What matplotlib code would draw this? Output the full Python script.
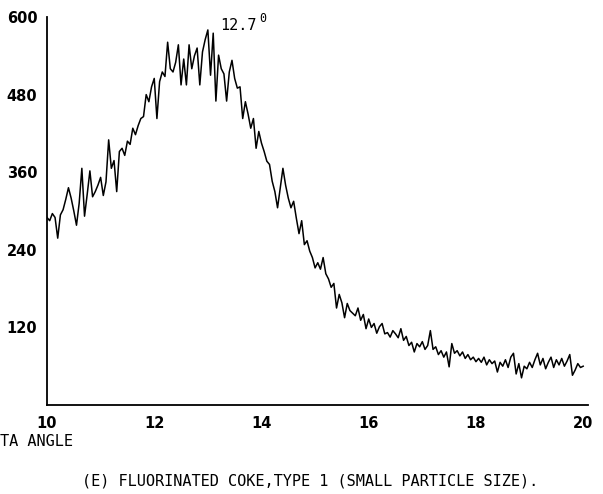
import numpy as np
import matplotlib
matplotlib.use("Agg")
import matplotlib.pyplot as plt

# ── Data (0.05 deg steps) ─────────────────────────────────────────────────────
counts = [
    290, 285, 296, 290, 258, 294, 302, 318, 336, 320,   # 10.00 - 10.45
    300, 278, 312, 366, 292, 326, 362, 322, 330, 340,   # 10.50 - 10.95
    352, 324, 345, 410, 366, 378, 330, 392, 397, 386,   # 11.00 - 11.45
    408, 403, 428, 418, 432, 443, 446, 480, 469, 492,   # 11.50 - 11.95
    505, 443, 500, 515, 508, 561, 520, 515, 530, 557,   # 12.00 - 12.45
    495, 535, 495, 557, 520, 540, 552, 495, 546, 565,   # 12.50 - 12.95
    580, 510, 575, 470, 541, 520, 512, 470, 515, 533,   # 13.00 - 13.45
    505, 490, 492, 443, 469, 450, 428, 443, 397, 423,   # 13.50 - 13.95
    405, 392, 377, 372, 346, 330, 305, 335, 366, 340,   # 14.00 - 14.45
    320, 305, 315, 289, 265, 285, 248, 254, 238, 228,   # 14.50 - 14.95
    212, 220, 210, 228, 203, 195, 182, 188, 150, 171,   # 15.00 - 15.45
    158, 135, 157, 146, 142, 138, 150, 131, 140, 118,   # 15.50 - 15.95
    133, 120, 126, 111, 121, 126, 110, 112, 105, 115,   # 16.00 - 16.45
    110, 104, 118, 100, 106, 92, 97, 82, 95, 90,        # 16.50 - 16.95
    98, 86, 92, 115, 86, 90, 78, 84, 74, 82,            # 17.00 - 17.45
    59, 95, 80, 84, 76, 82, 72, 78, 70, 74,             # 17.50 - 17.95
    67, 72, 66, 74, 62, 70, 64, 68, 51, 66,             # 18.00 - 18.45
    60, 70, 58, 74, 80, 48, 64, 42, 60, 56,             # 18.50 - 18.95
    66, 58, 70, 80, 62, 72, 56, 66, 74, 58,             # 19.00 - 19.45
    70, 62, 72, 60, 68, 78, 46, 54, 64, 58,             # 19.50 - 19.95
    60,                                                 # 20.00
]
two_theta = np.linspace(10, 20, len(counts))

x_ticks = [10, 12, 14, 16, 18, 20]
y_ticks = [120, 240, 360, 480, 600]
peak_label = "12.7"
x_label = "TA ANGLE"
caption = "(E) FLUORINATED COKE,TYPE 1 (SMALL PARTICLE SIZE)."

# ── Style ─────────────────────────────────────────────────────────────────────
plt.rcParams.update({
    "font.family": "DejaVu Sans Mono",
    "font.size": 11,
})

fig = plt.figure(figsize=(6.03, 4.94), dpi=100)
ax = fig.add_axes([47 / 603, 89 / 494, 541 / 603, 388 / 494])

ax.plot(two_theta, counts, color="black", linewidth=1.1)

ax.set_xlim(10, 20.09)
ax.set_ylim(0, 600)
ax.set_xticks(x_ticks)
ax.set_xticklabels([str(t) for t in x_ticks])
ax.set_yticks(y_ticks)
ax.set_yticklabels([str(t) for t in y_ticks])
ax.tick_params(axis="both", length=0)
ax.tick_params(axis="x", pad=8)
ax.tick_params(axis="y", pad=7)
for lbl in ax.get_xticklabels() + ax.get_yticklabels():
    lbl.set_fontfamily("DejaVu Sans")
    lbl.set_fontweight("bold")
    lbl.set_fontsize(10.5)

for s in ["top", "right"]:
    ax.spines[s].set_visible(False)
for s in ["left", "bottom"]:
    ax.spines[s].set_linewidth(1.3)

# peak annotation
ax.text(13.23, 587, peak_label, ha="left", va="center", fontsize=11)
ax.text(13.95, 597, "0", ha="left", va="center", fontsize=8.5)

fig.text(0, 1 - 441 / 494, x_label, ha="left", va="center", fontsize=11)
fig.text(310 / 603, 1 - 481 / 494, caption, ha="center", va="center", fontsize=11)

fig.savefig("out.png", dpi=100)
